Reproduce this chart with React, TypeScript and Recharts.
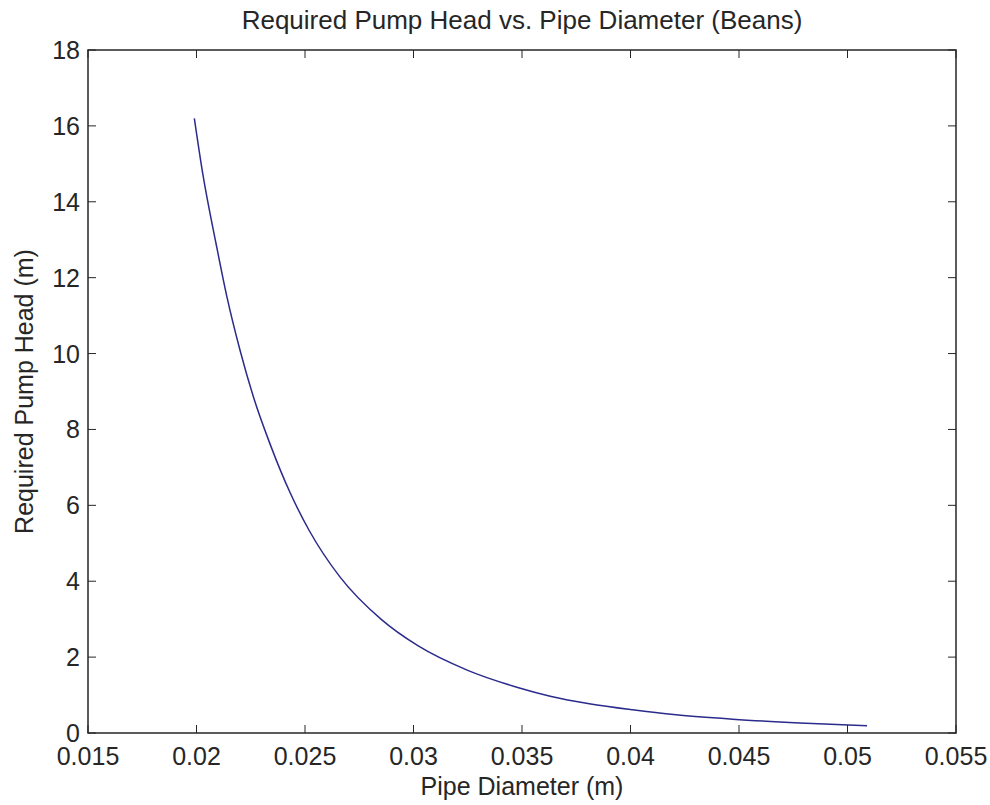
import { LineChart, Line, XAxis, YAxis, ReferenceArea } from 'recharts'

// pipe diameter (m) and required head (m)
const diameters = [
  0.0199, 0.0203, 0.0209, 0.0214, 0.022, 0.0226, 0.0234, 0.0243, 0.0252, 0.0266, 0.0285,
  0.0302, 0.0325, 0.0348, 0.0363, 0.0381, 0.0401, 0.0421, 0.0447, 0.0478, 0.0509,
]
const heads = [
  16.2, 14.7, 12.9, 11.5, 10.1, 8.9, 7.6, 6.35, 5.33, 4.12, 3.0,
  2.3, 1.65, 1.2, 0.97, 0.77, 0.61, 0.48, 0.365, 0.265, 0.19,
]

const xTicks = [0.015, 0.02, 0.025, 0.03, 0.035, 0.04, 0.045, 0.05, 0.055]
const yTicks = [0, 2, 4, 6, 8, 10, 12, 14, 16, 18]

const data = diameters.map((d, i) => ({ d, h: heads[i] }))

const W = 990
const H = 805
const M = { top: 50, right: 34, left: 0, bottom: 0 }
const X_AXIS_H = 72
const Y_AXIS_W = 88
const PLOT_TOP = M.top
const PLOT_RIGHT = W - M.right
const TICK_LEN = 8

const font = '"Liberation Sans", Arial, sans-serif'
const ink = '#262626'
const textStyle = { fontSize: 25, fill: ink, fontFamily: font }

// matlab style: ticks point inwards, mirrored on top / right
const XTick = ({ x, y, payload }: any) => (
  <g>
    <line x1={x} y1={y} x2={x} y2={y - TICK_LEN} stroke={ink} />
    <line x1={x} y1={PLOT_TOP} x2={x} y2={PLOT_TOP + TICK_LEN} stroke={ink} />
    <text x={x} y={y + 32} textAnchor="middle" {...textStyle}>
      {String(payload.value)}
    </text>
  </g>
)

const YTick = ({ x, y, payload }: any) => (
  <g>
    <line x1={x} y1={y} x2={x + TICK_LEN} y2={y} stroke={ink} />
    <line x1={PLOT_RIGHT} y1={y} x2={PLOT_RIGHT - TICK_LEN} y2={y} stroke={ink} />
    <text x={x - 8} y={y} dy="0.36em" textAnchor="end" {...textStyle}>
      {String(payload.value)}
    </text>
  </g>
)

export default function App() {
  return (
    <div style={{ position: 'absolute', left: 0, top: 0, width: W, height: H, background: '#fff' }}>
      <div
        style={{
          position: 'absolute',
          left: Y_AXIS_W,
          top: 8,
          width: PLOT_RIGHT - Y_AXIS_W,
          textAlign: 'center',
          fontFamily: font,
          fontSize: 26,
          lineHeight: '25px',
          color: ink,
          whiteSpace: 'nowrap',
        }}
      >
        Required Pump Head vs. Pipe Diameter (Beans)
      </div>
      <LineChart width={W} height={H} data={data} margin={M}>
        <ReferenceArea x1={0.015} x2={0.055} y1={0} y2={18} fill="none" stroke={ink} strokeWidth={1.5} />
        <XAxis
          dataKey="d"
          type="number"
          domain={[0.015, 0.055]}
          ticks={xTicks}
          height={X_AXIS_H}
          tickLine={false}
          tickSize={0}
          tickMargin={0}
          axisLine={false}
          tick={<XTick />}
          interval={0}
          label={{ value: 'Pipe Diameter (m)', position: 'insideBottom', offset: 10, style: textStyle }}
        />
        <YAxis
          type="number"
          domain={[0, 18]}
          ticks={yTicks}
          width={Y_AXIS_W}
          tickLine={false}
          tickSize={0}
          tickMargin={0}
          axisLine={false}
          tick={<YTick />}
          interval={0}
          label={{
            value: 'Required Pump Head (m)',
            angle: -90,
            position: 'insideLeft',
            offset: 24,
            style: { ...textStyle, textAnchor: 'middle' },
          }}
        />
        <Line
          type="monotone"
          dataKey="h"
          stroke="#2b2b8c"
          strokeWidth={1.5}
          dot={false}
          isAnimationActive={false}
        />
      </LineChart>
    </div>
  )
}
